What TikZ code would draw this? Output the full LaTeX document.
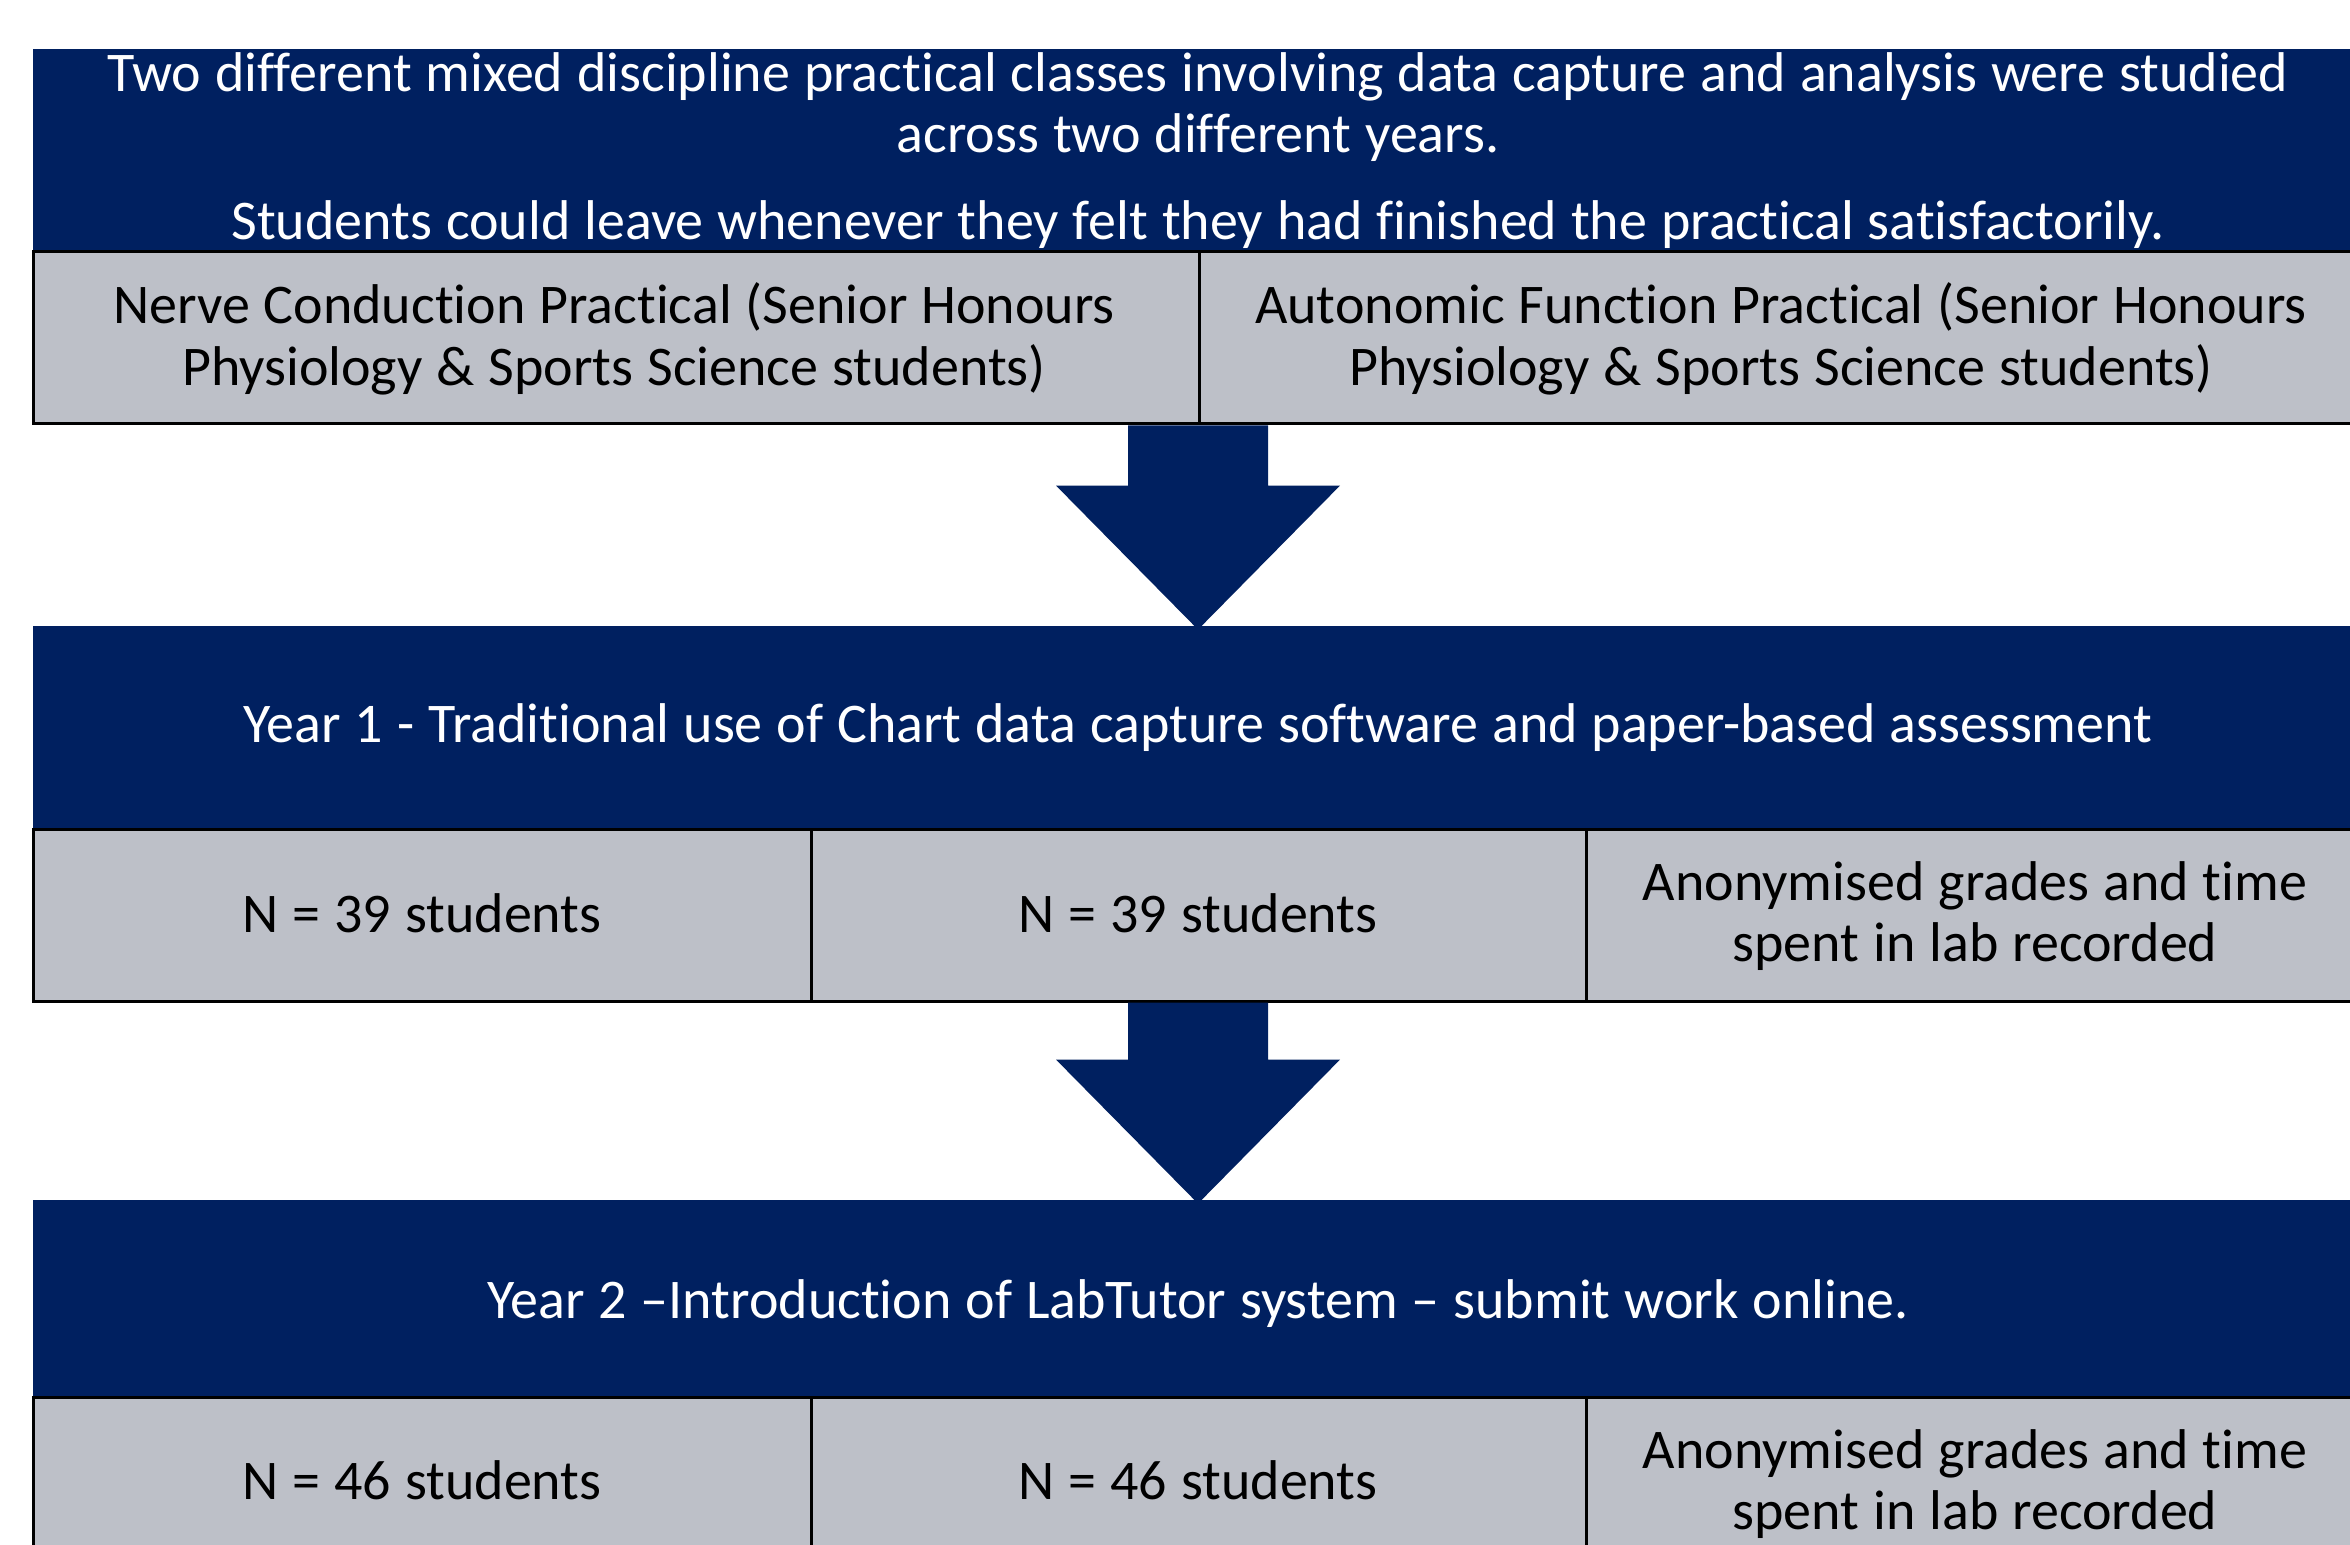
\documentclass[tikz,border=0pt]{standalone}
\usepackage{fontspec}
\setmainfont{Carlito}[Ligatures=NoCommon, WordSpace=1.1]
\usetikzlibrary{fit,calc}
\definecolor{navy}{RGB}{0,32,96}
\definecolor{cellgray}{RGB}{189,192,200}
\tikzset{
  bluebox/.style={fill=navy, draw=none, inner sep=0pt},
  graycell/.style={fill=cellgray, draw=black, line width=1.5pt, inner sep=0pt},
  wtext/.style={text=white, anchor=base, inner sep=0pt, font=\fontsize{28pt}{32pt}\selectfont},
  btext/.style={text=black, anchor=base, inner sep=0pt, font=\fontsize{28pt}{32pt}\selectfont},
  arrowfill/.style={fill=navy}
}
\newcommand\flowarrow[2]{%
  \fill[arrowfill] let \p1=(#1), \p2=(#2) in
    (\x2-35pt,\y1) -- (\x2+35pt,\y1) -- (\x2+35pt,\y2+70pt) -- (\x2+71pt,\y2+70pt)
    -- (\x2,\y2-2pt) -- (\x2-71pt,\y2+70pt) -- (\x2-35pt,\y2+70pt) -- cycle;}
\begin{document}
\begin{tikzpicture}[x=0.5pt,y=-0.5pt]
\useasboundingbox (0,0) rectangle (2350,1545);
\clip (0,0) rectangle (2350,1545);
\fill[white] (0,0) rectangle (2350,1545);

% top block
\node[bluebox, fit={(33,49) (2363,252)}] (top) {};
\node[wtext] (t1) at (1198,92) {Two different mixed discipline practical classes involving data capture and analysis were studied};
\node[wtext] (t2) at (1198,153) {across two different years.};
\node[wtext] (t3) at (1198,240) {Students could leave whenever they felt they had finished the practical satisfactorily.};

% row 1 cells
\node[graycell, fit={(33,252) (1199,424)}] (r1a) {};
\node[graycell, fit={(1199,252) (2370,424)}] (r1b) {};
\node[btext] (r1a1) at (614,324) {Nerve Conduction Practical (Senior Honours};
\node[btext] (r1a2) at (614,386) {Physiology \& Sports Science students)};
\node[btext] (r1b1) at (1781,324) {Autonomic Function Practical (Senior Honours};
\node[btext] (r1b2) at (1781,386) {Physiology \& Sports Science students)};

% year 1
\node[bluebox, fit={(33,626) (2363,829)}] (y1) {};
\node[wtext] (y1t) at (1198,742) {Year 1 - Traditional use of Chart data capture software and paper-based assessment};

% row 2 cells
\node[graycell, fit={(33,829) (811,1001)}] (r2a) {};
\node[graycell, fit={(811,829) (1586,1001)}] (r2b) {};
\node[graycell, fit={(1586,829) (2370,1001)}] (r2c) {};
\node[btext] (r2at) at (422,932) {N = 39 students};
\node[btext] (r2bt) at (1198,932) {N = 39 students};
\node[btext] (r2c1) at (1975,900) {Anonymised grades and time};
\node[btext] (r2c2) at (1975,961) {spent in lab recorded};

% year 2
\node[bluebox, fit={(33,1200) (2363,1397)}] (y2) {};
\node[wtext] (y2t) at (1198,1318) {Year 2 --Introduction of LabTutor system -- submit work online.};

% row 3 cells
\node[graycell, fit={(33,1397) (811,1570)}] (r3a) {};
\node[graycell, fit={(811,1397) (1586,1570)}] (r3b) {};
\node[graycell, fit={(1586,1397) (2370,1570)}] (r3c) {};
\node[btext] (r3at) at (422,1499) {N = 46 students};
\node[btext] (r3bt) at (1198,1499) {N = 46 students};
\node[btext] (r3c1) at (1975,1468) {Anonymised grades and time};
\node[btext] (r3c2) at (1975,1529) {spent in lab recorded};

% arrows
\flowarrow{r1a.south east}{y1.north}
\flowarrow{r2b.south}{y2.north}
\end{tikzpicture}
\end{document}
